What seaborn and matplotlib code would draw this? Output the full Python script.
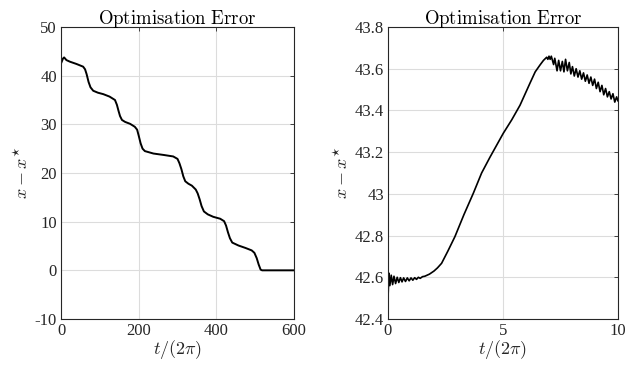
import numpy as np
import pandas as pd
import matplotlib
matplotlib.use("Agg")
import matplotlib.pyplot as plt
import seaborn as sns

# Left panel: full run, t/(2pi) in [0, 600]
left_t = [0, 2, 5, 8, 14, 23, 40, 57, 62, 66, 71, 76, 83, 95, 109, 125, 139,
          144, 148, 152, 157, 165, 178, 190, 196, 200, 205, 210, 216, 238, 265,
          289, 300, 305, 310, 315, 320, 328, 337, 347, 352, 357, 362, 368, 378,
          392, 410, 420, 425, 430, 435, 441, 457, 475, 491, 498, 504, 509, 514,
          518, 560, 600]
left_err = [42.5, 42.9, 43.5, 43.75, 43.2, 42.87, 42.4, 41.85, 41.3, 40.3,
            38.7, 37.6, 36.9, 36.5, 36.2, 35.7, 35.0, 34.0, 32.8, 31.7, 30.9,
            30.5, 30.1, 29.5, 28.9, 27.7, 26.1, 25.0, 24.5, 24.0, 23.7, 23.4,
            22.9, 22.0, 20.8, 19.3, 18.3, 17.8, 17.4, 16.6, 15.8, 14.6, 13.2,
            12.1, 11.5, 11.0, 10.6, 10.1, 9.2, 7.8, 6.6, 5.7, 5.1, 4.6, 4.1,
            3.6, 2.5, 1.2, 0.15, 0.0, 0.0, 0.0]

# Right panel: first 10 periods, t/(2pi) in [0, 10]
right_t = [0.0, 0.04, 0.08, 0.14, 0.20, 0.26, 0.33, 0.40, 0.47, 0.54, 0.61,
           0.68, 0.76, 0.84, 0.92, 1.00, 1.08, 1.16, 1.24, 1.32, 1.40, 1.50,
           1.60, 1.80, 2.00, 2.15, 2.33, 2.60, 2.91, 3.30, 3.71, 4.07, 4.43,
           5.01, 5.38, 5.74, 6.17, 6.40, 6.61, 6.76,
           6.90, 6.95, 7.00, 7.05, 7.10, 7.20, 7.25, 7.35, 7.42, 7.50, 7.58,
           7.65, 7.72, 7.80, 7.88, 7.95, 8.02, 8.10, 8.18, 8.26, 8.34, 8.42,
           8.50, 8.58, 8.66, 8.74, 8.82, 8.90, 8.98, 9.06, 9.14, 9.22, 9.30,
           9.38, 9.46, 9.54, 9.62, 9.70, 9.78, 9.86, 9.94, 10.0]
right_err = [42.50, 42.62, 42.56, 42.61, 42.565, 42.605, 42.57, 42.60, 42.575,
             42.598, 42.578, 42.597, 42.58, 42.597, 42.583, 42.597, 42.586,
             42.598, 42.59, 42.60, 42.595, 42.603, 42.605, 42.615, 42.63,
             42.645, 42.667, 42.725, 42.795, 42.90, 43.003, 43.10, 43.175,
             43.29, 43.355, 43.425, 43.53, 43.585, 43.618, 43.64,
             43.655, 43.645, 43.66, 43.645, 43.66, 43.62,
             43.65, 43.59, 43.64, 43.59, 43.635, 43.585, 43.645, 43.59, 43.63,
             43.575, 43.61, 43.565, 43.60, 43.56, 43.59, 43.55, 43.58, 43.54,
             43.57, 43.53, 43.56, 43.52, 43.55, 43.505, 43.535, 43.49, 43.52,
             43.475, 43.505, 43.465, 43.49, 43.455, 43.48, 43.44, 43.465,
             43.445]

left_xticks = [0, 200, 400, 600]
left_yticks = [-10, 0, 10, 20, 30, 40, 50]
right_xticks = [0, 5, 10]
right_yticks = [42.4, 42.6, 42.8, 43.0, 43.2, 43.4, 43.6, 43.8]
right_ylabels = ["42.4", "42.6", "42.8", "43", "43.2", "43.4", "43.6", "43.8"]

sns.set_theme(style="white")
plt.rcParams["font.family"] = ["Liberation Serif", "DejaVu Serif"]
plt.rcParams["mathtext.fontset"] = "cm"
plt.rcParams["axes.unicode_minus"] = False

fig = plt.figure(figsize=(6.39, 3.71), dpi=100)
ax1 = fig.add_axes([61 / 639, 1 - 319 / 371, 233 / 639, 292 / 371])
ax2 = fig.add_axes([388 / 639, 1 - 319 / 371, 230 / 639, 292 / 371])

df_l = pd.DataFrame({"t": left_t, "e": left_err})
df_r = pd.DataFrame({"t": right_t, "e": right_err})

sns.lineplot(data=df_l, x="t", y="e", ax=ax1, color="black", linewidth=1.4,
             estimator=None, sort=False)
sns.lineplot(data=df_r, x="t", y="e", ax=ax2, color="black", linewidth=1.2,
             estimator=None, sort=False)

axc = "#262626"
for ax, xt, yt, xl, yl in [
    (ax1, left_xticks, left_yticks, (0, 600), (-10, 50)),
    (ax2, right_xticks, right_yticks, (0, 10), (42.4, 43.8)),
]:
    ax.set_xlim(*xl)
    ax.set_ylim(*yl)
    ax.set_xticks(xt)
    ax.set_yticks(yt)
    ax.grid(True, color="#dcdcdc", linewidth=0.8)
    ax.set_axisbelow(True)
    for s in ax.spines.values():
        s.set_visible(True)
        s.set_color(axc)
        s.set_linewidth(0.8)
    ax.tick_params(direction="in", length=3, width=0.6, colors=axc,
                   top=True, right=True, labelsize=12, pad=3)
    for lab in ax.get_xticklabels() + ax.get_yticklabels():
        lab.set_color(axc)
    ax.set_title(r"$\mathrm{Optimisation\ Error}$", fontsize=13.5, pad=2,
                 color="black")
    ax.set_xlabel(r"$t/(2\pi)$", fontsize=13, labelpad=-1, color=axc)
    ax.set_ylabel(r"$x - x^{\star}$", fontsize=13, labelpad=2, color=axc)

ax2.set_yticklabels(right_ylabels)

fig.savefig("out.png", dpi=100)
